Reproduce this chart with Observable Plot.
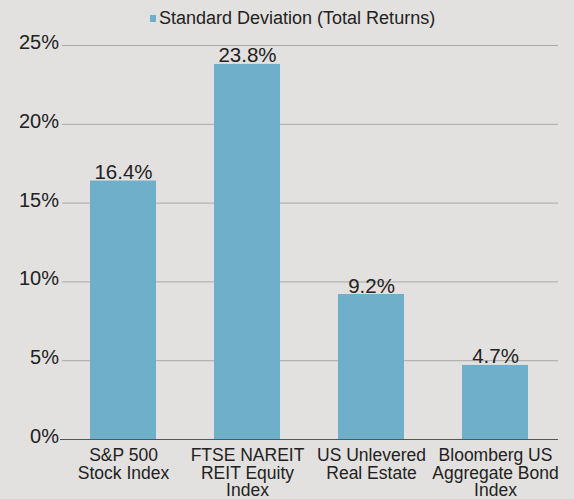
<!DOCTYPE html>
<html><head><meta charset="utf-8">
<script src="https://cdn.jsdelivr.net/npm/d3@7"></script>
<script src="https://cdn.jsdelivr.net/npm/@observablehq/plot@0.6"></script>
<style>
body{margin:0;background:#e2e1df;font-family:"Liberation Sans",Arial,sans-serif;color:#222;width:574px;height:499px;overflow:hidden}
#legend{height:36px;box-sizing:border-box;padding:9px 0 0 150px;font-size:18px;line-height:18px;white-space:nowrap}
#legend .sw{display:inline-block;width:6px;height:7px;background:#70afc9;margin:0 3px 2px 0}
svg{display:block}
</style>
</head><body>
<div id="legend"><span class="sw"></span>Standard Deviation (Total Returns)</div>
<div id="chart"></div>
<script>
const categories = ["S&P 500\nStock Index", "FTSE NAREIT\nREIT Equity\nIndex", "US Unlevered\nReal Estate", "Bloomberg US\nAggregate Bond\nIndex"];
const values = [16.4, 23.8, 9.2, 4.7];
const yTicks = [0, 5, 10, 15, 20, 25];
const data = categories.map((c, i) => ({cat: c, value: values[i]}));

const chart = Plot.plot({
  width: 574, height: 463,
  marginTop: 9, marginBottom: 60, marginLeft: 60, marginRight: 16,
  style: {background: "transparent", fontFamily: '"Liberation Sans", Arial, sans-serif', color: "#222", overflow: "visible"},
  x: {domain: categories, paddingInner: 0.466, paddingOuter: 0.233, label: null},
  y: {domain: [0, 25], label: null},
  marks: [
    Plot.ruleY(yTicks.filter(d => d > 0), {stroke: "#a8a8a8", insetLeft: 2}),
    Plot.barY(data, {x: "cat", y: "value", fill: "#70afc9"}),
    Plot.ruleY([0], {stroke: "#555"}),
    Plot.text(data, {x: "cat", y: "value", text: d => d.value.toFixed(1) + "%", lineAnchor: "bottom", dy: -2, fontSize: 20.5, fill: "#222"}),
    Plot.axisY({ticks: yTicks, tickFormat: d => d + "%", tickSize: 0, tickPadding: 1.5, fontSize: 20, dy: -3, label: null}),
    Plot.axisX({tickSize: 0, tickPadding: 9, fontSize: 17.5, lineHeight: 1.01, label: null})
  ]
});
document.getElementById("chart").appendChild(chart);
</script>
</body></html>
